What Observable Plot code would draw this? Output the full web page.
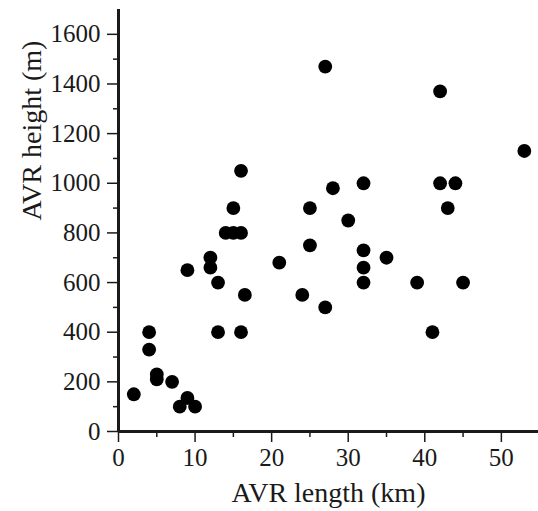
<!DOCTYPE html>
<html><head><meta charset="utf-8">
<script src="https://cdn.jsdelivr.net/npm/d3@7"></script>
<script src="https://cdn.jsdelivr.net/npm/@observablehq/plot@0.6"></script>
<style>html,body{margin:0;padding:0;background:#fff;overflow:hidden}svg{display:block}</style>
</head><body><div id="chart"></div>
<script>
const lengthKm = [2, 4, 4, 5, 5, 7, 8, 9, 10, 9, 12, 12, 13, 13, 14, 15, 16, 15, 16, 16, 16.5, 21, 24, 25, 25, 27, 27, 28, 30, 32, 32, 32, 32, 35, 39, 41, 42, 42, 44, 43, 45, 53];
const heightM  = [150, 400, 330, 230, 210, 200, 100, 135, 100, 650, 700, 660, 600, 400, 800, 800, 800, 900, 1050, 400, 550, 680, 550, 900, 750, 1470, 500, 980, 850, 1000, 730, 660, 600, 700, 600, 400, 1370, 1000, 1000, 900, 600, 1130];
const xTicks = [0, 10, 20, 30, 40, 50];
const xMinor = [5, 15, 25, 35, 45];
const yTicks = [0, 200, 400, 600, 800, 1000, 1200, 1400, 1600];
const yMinor = [100, 300, 500, 700, 900, 1100, 1300, 1500];
const xLabel = "AVR length (km)";
const yLabel = "AVR height (m)";

const data = lengthKm.map((x, i) => ({x, y: heightM[i]}));
const ink = "#1a1a1a";
const serif = "Liberation Serif";
const chart = Plot.plot({
  width: 538, height: 511,
  marginLeft: 118, marginRight: 0, marginTop: 9, marginBottom: 80,
  style: {fontFamily: serif, background: "#fff"},
  x: {domain: [0, 54.85]},
  y: {domain: [0, 1700]},
  marks: [
    Plot.axisX({ticks: xTicks, tickSize: 11, tickPadding: 6, label: null, fontSize: 25, fontFamily: serif, fill: ink, stroke: ink, strokeWidth: 1.5, tickFormat: d => String(d)}),
    Plot.axisX({ticks: xMinor, tickSize: 6, text: null, label: null, stroke: ink, strokeWidth: 1.5}),
    Plot.axisY({ticks: yTicks, tickSize: 11, tickPadding: 7, label: null, fontSize: 25, fontFamily: serif, fill: ink, stroke: ink, strokeWidth: 1.5, tickFormat: d => String(d)}),
    Plot.axisY({ticks: yMinor, tickSize: 5, text: null, label: null, stroke: ink, strokeWidth: 1.5}),
    Plot.ruleX([0], {stroke: ink, strokeWidth: 3}),
    Plot.ruleY([0], {stroke: ink, strokeWidth: 3}),
    Plot.dot(data, {x: "x", y: "y", r: 6.9, fill: "#000", stroke: null}),
    Plot.text([xLabel], {frameAnchor: "bottom", lineAnchor: "bottom", dy: 70, fontSize: 28, fontFamily: serif, fill: ink}),
    Plot.text([yLabel], {frameAnchor: "left", lineAnchor: "bottom", rotate: -90, dx: -78, fontSize: 28, fontFamily: serif, fill: ink})
  ]
});
document.getElementById("chart").appendChild(chart);
</script>
</body></html>
